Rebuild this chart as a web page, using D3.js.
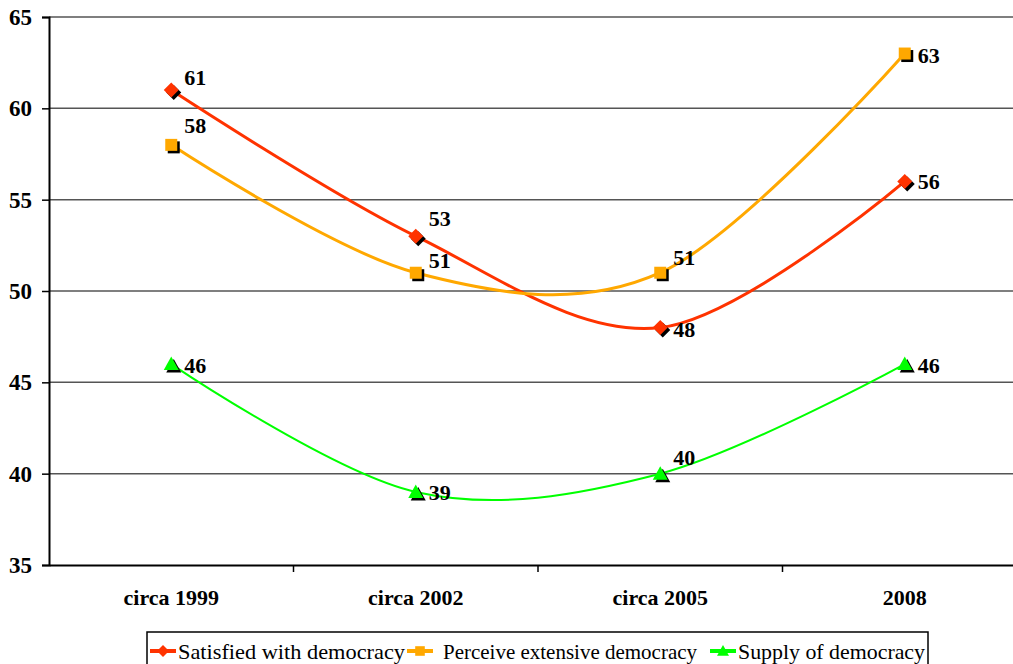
<!DOCTYPE html>
<html>
<head>
<meta charset="utf-8">
<script src="https://cdn.jsdelivr.net/npm/d3@7"></script>
</head>
<body style="margin:0;background:#fff">
<div class="chartCont"></div>
<script>
const w = 1013;
const h = 664;
const FONT = '"Liberation Serif"';

// data
const categories = ["circa 1999", "circa 2002", "circa 2005", "2008"];
const satisfied = [61, 53, 48, 56];
const perceive = [58, 51, 51, 63];
const supply = [46, 39, 40, 46];
const yTicks = [35, 40, 45, 50, 55, 60, 65];

const seriesNames = ["Satisfied with democracy", "Perceive extensive democracy", "Supply of democracy"];
const seriesColors = ["#ff3300", "#ffa800", "#00ff00"];
const seriesWidths = [3, 3, 2];

// label nudges (px) per series / point
const labelDy = [
  [-13, -18, 2, 0],
  [-20, -12, -15, 2],
  [1, 0, -16, 1]
];

const m = {left: 49, right: 0, top: 17, bottom: 99};

const svg = d3.select(".chartCont").append("svg")
    .attr("width", w)
    .attr("height", h);

const x = d3.scaleBand()
    .domain(categories)
    .range([m.left, m.left + 244.5 * 4]);

const y = d3.scaleLinear()
    .domain([35, 65])
    .range([h - m.bottom, m.top]);

// marker shapes
const diamond = s => `M0,${-s}L${s},0L0,${s}L${-s},0Z`;
const square = s => `M${-s},${-s}H${s}V${s}H${-s}Z`;
const triangle = s => `M0,${-s}L${s},${s * 0.8}H${-s}Z`;
const shapes = [diamond, square, triangle];
const shapeSize = [7.5, 6, 7.5];

// gridlines
svg.append("g")
  .selectAll("line")
  .data(yTicks.slice(1))
  .enter().append("line")
    .attr("x1", m.left).attr("x2", w)
    .attr("y1", d => y(d)).attr("y2", d => y(d))
    .attr("stroke", "#555").attr("stroke-width", 1.5);

// y axis
const yAxis = svg.append("g")
    .attr("transform", `translate(${m.left},0)`)
    .call(d3.axisLeft(y).tickValues(yTicks).tickSize(7).tickPadding(10))
    .attr("font-family", null);
yAxis.select(".domain").attr("stroke", "#000").attr("stroke-width", 2);
yAxis.selectAll(".tick line").attr("stroke", "#000").attr("stroke-width", 1.5);
yAxis.selectAll(".tick text")
    .style("font-family", FONT)
    .attr("font-size", 23).attr("font-weight", "bold").attr("fill", "#000");

// x axis
const xAxis = svg.append("g")
    .attr("transform", `translate(0,${y(35)})`)
    .call(d3.axisBottom(x).tickSize(0).tickPadding(24))
    .attr("font-family", null);
xAxis.select(".domain").attr("stroke", "#000").attr("stroke-width", 2);
xAxis.selectAll(".tick text")
    .style("font-family", FONT)
    .attr("font-size", 22).attr("font-weight", "bold").attr("fill", "#000");
svg.append("g")
  .selectAll("line")
  .data(categories)
  .enter().append("line")
    .attr("x1", d => x(d) + x.bandwidth()).attr("x2", d => x(d) + x.bandwidth())
    .attr("y1", y(35)).attr("y2", y(35) + 7)
    .attr("stroke", "#000").attr("stroke-width", 1.5);

const cx = d => x(d) + x.bandwidth() / 2;

const line = d3.line()
    .x(d => cx(d.cat))
    .y(d => y(d.v))
    .curve(d3.curveCardinal.tension(0));

const allSeries = [satisfied, perceive, supply].map((vals, i) => ({
  name: seriesNames[i],
  color: seriesColors[i],
  width: seriesWidths[i],
  points: vals.map((v, j) => ({cat: categories[j], v: v, dy: labelDy[i][j]}))
}));

allSeries.forEach((s, i) => {
  const g = svg.append("g");
  g.append("path")
    .datum(s.points)
    .attr("fill", "none")
    .attr("stroke", s.color)
    .attr("stroke-width", s.width)
    .attr("d", line);

  // shadow
  g.selectAll(".shadow")
    .data(s.points)
    .enter().append("path")
      .attr("transform", d => `translate(${cx(d.cat) + 2.5},${y(d.v) + 2.5})`)
      .attr("d", shapes[i](shapeSize[i]))
      .attr("fill", "#000");
  g.selectAll(".mark")
    .data(s.points)
    .enter().append("path")
      .attr("transform", d => `translate(${cx(d.cat)},${y(d.v)})`)
      .attr("d", shapes[i](shapeSize[i]))
      .attr("fill", s.color);
});

// data labels
allSeries.forEach(s => {
  svg.append("g")
    .selectAll("text")
    .data(s.points)
    .enter().append("text")
      .style("font-family", FONT)
      .attr("x", d => cx(d.cat) + 13)
      .attr("y", d => y(d.v) + d.dy)
      .attr("dy", "0.35em")
      .attr("font-size", 22)
      .attr("font-weight", "bold")
      .attr("fill", "#000")
      .text(d => d.v);
});

// legend
const legend = svg.append("g");
legend.append("rect")
    .attr("x", 147).attr("y", 632)
    .attr("width", 781).attr("height", 40)
    .attr("fill", "#fff").attr("stroke", "#000").attr("stroke-width", 1.5);

const legItems = [
  {sx: 150, tx: 178, tw: 227},
  {sx: 407, tx: 443, tw: 254},
  {sx: 710, tx: 738, tw: 187}
];

allSeries.forEach((s, i) => {
  const it = legItems[i];
  const ly = 651;
  legend.append("line")
    .attr("x1", it.sx).attr("x2", it.sx + 26)
    .attr("y1", ly).attr("y2", ly)
    .attr("stroke", s.color).attr("stroke-width", 4);
  legend.append("path")
    .attr("transform", `translate(${it.sx + 13},${ly})`)
    .attr("d", shapes[i](shapeSize[i] * 0.8))
    .attr("fill", s.color);
  legend.append("text")
    .style("font-family", FONT)
    .attr("x", it.tx).attr("y", ly)
    .attr("dy", "0.35em")
    .attr("font-size", 22)
    .attr("textLength", it.tw)
    .attr("lengthAdjust", "spacingAndGlyphs")
    .attr("fill", "#000")
    .text(s.name);
});
</script>
</body>
</html>
